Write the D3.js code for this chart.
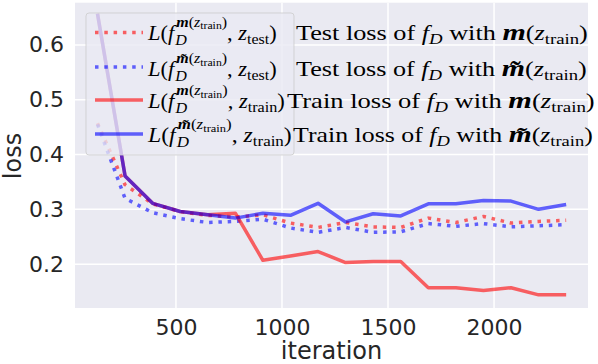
<!DOCTYPE html>
<html>
<head>
<meta charset="utf-8">
<script src="https://cdn.jsdelivr.net/npm/d3@7"></script>
<style>
  body { margin: 0; background: #fff; }
  svg text { fill: #262626; }
</style>
</head>
<body>
<svg id="chart" width="598" height="364"></svg>
<script>
// data
const iterations = [130, 260, 390, 520, 650, 780, 910, 1040, 1170, 1300, 1430, 1560, 1690, 1820, 1950, 2080, 2210, 2340];
const testLossM  = [0.457, 0.345, 0.310, 0.296, 0.289, 0.286, 0.290, 0.275, 0.267, 0.276, 0.268, 0.267, 0.284, 0.276, 0.287, 0.275, 0.278, 0.280];
const testLossMt = [0.455, 0.320, 0.294, 0.283, 0.276, 0.278, 0.282, 0.266, 0.258, 0.267, 0.258, 0.259, 0.274, 0.269, 0.274, 0.268, 0.270, 0.272];
const trainLossM = [0.657, 0.361, 0.311, 0.296, 0.290, 0.293, 0.207, 0.215, 0.223, 0.203, 0.205, 0.205, 0.157, 0.157, 0.152, 0.157, 0.144, 0.144];
const trainLossMt = [0.657, 0.361, 0.311, 0.296, 0.290, 0.284, 0.293, 0.289, 0.311, 0.277, 0.292, 0.288, 0.310, 0.310, 0.316, 0.315, 0.300, 0.309];
const xTicks = [500, 1000, 1500, 2000];
const yTicks = [0.2, 0.3, 0.4, 0.5, 0.6];

const svg = d3.select('#chart');
const pL = 75, pR = 588, pT = 2.7, pB = 308;
const x = d3.scaleLinear().domain([24, 2443]).range([pL, pR]);
const y = d3.scaleLinear().domain([0.120, 0.677]).range([pB, pT]);

svg.append('rect').attr('x', pL).attr('y', pT)
  .attr('width', pR - pL).attr('height', pB - pT).attr('fill', '#EAEAF2');

svg.append('clipPath').attr('id', 'clip').append('rect')
  .attr('x', pL).attr('y', pT).attr('width', pR - pL).attr('height', pB - pT);

// grid
svg.append('g').selectAll('line').data(xTicks).join('line')
  .attr('x1', d => x(d)).attr('x2', d => x(d)).attr('y1', pT).attr('y2', pB)
  .attr('stroke', '#fff').attr('stroke-width', 1.5);
svg.append('g').selectAll('line').data(yTicks).join('line')
  .attr('y1', d => y(d)).attr('y2', d => y(d)).attr('x1', pL).attr('x2', pR)
  .attr('stroke', '#fff').attr('stroke-width', 1.5);

// axes (no domain, no tick marks, seaborn style)
const xAxis = svg.append('g').attr('transform', `translate(0,${pB})`)
  .call(d3.axisBottom(x).tickValues(xTicks).tickSize(0).tickPadding(11).tickFormat(d3.format('d')));
const yAxis = svg.append('g').attr('transform', `translate(${pL},0)`)
  .call(d3.axisLeft(y).tickValues(yTicks).tickSize(0).tickPadding(11).tickFormat(d3.format('.1f')));
[xAxis, yAxis].forEach(a => {
  a.select('.domain').remove();
  a.selectAll('text').style('font-family', 'DejaVu Sans').style('font-size', '22px').style('fill', '#262626');
});

svg.append('text').attr('x', (pL + pR) / 2).attr('y', 359)
  .attr('text-anchor', 'middle').style('font-family', 'DejaVu Sans').style('font-size', '24px')
  .text('iteration');
svg.append('text').attr('transform', 'translate(21,156) rotate(-90)')
  .attr('text-anchor', 'middle').style('font-family', 'DejaVu Sans').style('font-size', '24px')
  .text('loss');

// lines
const series = [
  { vals: testLossM, color: '#ff0000', dash: '3.5,5.8' },
  { vals: testLossMt, color: '#0000ff', dash: '3.5,5.8' },
  { vals: trainLossM, color: '#ff0000', dash: null },
  { vals: trainLossMt, color: '#0000ff', dash: null }
];
const line = d3.line().x(d => x(d[0])).y(d => y(d[1]));
const plot = svg.append('g').attr('clip-path', 'url(#clip)');
series.forEach(s => {
  plot.append('path').datum(iterations.map((it, i) => [it, s.vals[i]]))
    .attr('d', line).attr('fill', 'none')
    .attr('stroke', s.color).attr('stroke-opacity', 0.6).attr('stroke-width', 3.5)
    .attr('stroke-dasharray', s.dash).attr('stroke-linejoin', 'round');
});

// legend
const lg = svg.append('g');
lg.append('rect').attr('x', 86).attr('y', 13).attr('width', 208).attr('height', 142).attr('rx', 3)
  .attr('fill', '#EAEAF2').attr('fill-opacity', 0.8).attr('stroke', '#cccccc').attr('stroke-opacity', 0.8);

const serif = 'Liberation Serif';
// math-like label built from tspans, then stretched horizontally to the width seen in the figure
function mathText(g, x0, base, width, parts) {
  const wrap = g.append('g');
  const t = wrap.append('text').attr('x', x0).attr('y', base)
    .style('font-family', serif).style('fill', '#000');
  let cur = 0;
  parts.forEach(p => {
    const ts = t.append('tspan').text(p.t)
      .style('font-size', (p.size || 21) + 'px')
      .style('font-style', p.i ? 'italic' : 'normal')
      .style('font-weight', p.b ? 'bold' : 'normal');
    const off = p.off || 0;
    if (off !== cur) { ts.attr('dy', off - cur); cur = off; }
    if (p.dx) ts.attr('dx', p.dx);
  });
  const bb = t.node().getBBox();
  const sx = width / bb.width;
  wrap.attr('transform', `translate(${x0},0) scale(${sx},1) translate(${-x0},0)`);
  return t;
}
function mSup(tilde) {
  // f_D^{m(z_train)}
  return [
    { t: 'f', i: true },
    { t: 'D', i: true, size: 15, off: 5, dx: 1 },
    { t: tilde ? 'm\u0303' : 'm', i: true, b: true, size: 15, off: -13, dx: -10 },
    { t: '(', size: 15, off: -13 },
    { t: 'z', i: true, size: 15, off: -13 },
    { t: 'train', size: 11, off: -10.5 },
    { t: ')', size: 15, off: -13 }
  ];
}
const legendRows = [
  { color: '#ff0000', dash: '3.5,5.8', base: 40, hy: 32.5, tilde: false, sub: 'test', word: 'Test', mw: 130, tx: 296, tw: 292 },
  { color: '#0000ff', dash: '3.5,5.8', base: 76.5, hy: 67, tilde: true, sub: 'test', word: 'Test', mw: 130, tx: 296, tw: 291 },
  { color: '#ff0000', dash: null, base: 108.5, hy: 100, tilde: false, sub: 'train', word: 'Train', mw: 138, tx: 287, tw: 308 },
  { color: '#0000ff', dash: null, base: 142.5, hy: 134, tilde: true, sub: 'train', word: 'Train', mw: 145, tx: 293, tw: 300 }
];
legendRows.forEach(r => {
  lg.append('line').attr('x1', 95).attr('x2', 143).attr('y1', r.hy).attr('y2', r.hy)
    .attr('stroke', r.color).attr('stroke-opacity', 0.6).attr('stroke-width', 3.5)
    .attr('stroke-dasharray', r.dash);
  mathText(lg, 148, r.base, r.mw, [
    { t: 'L', i: true }, { t: '(' }, ...mSup(r.tilde),
    { t: ', ', off: 0 }, { t: 'z', i: true }, { t: r.sub, size: 15, off: 4 }, { t: ')', off: 0 }
  ]);
  mathText(lg, r.tx, r.base, r.tw, [
    { t: r.word + ' loss of ' }, { t: 'f', i: true }, { t: 'D', i: true, size: 15, off: 4 },
    { t: ' with ', off: 0 }, { t: r.tilde ? 'm\u0303' : 'm', i: true, b: true, size: 24 },
    { t: '(' }, { t: 'z', i: true }, { t: 'train', size: 15, off: 4 }, { t: ')', off: 0 }
  ]);
});
</script>
</body>
</html>
